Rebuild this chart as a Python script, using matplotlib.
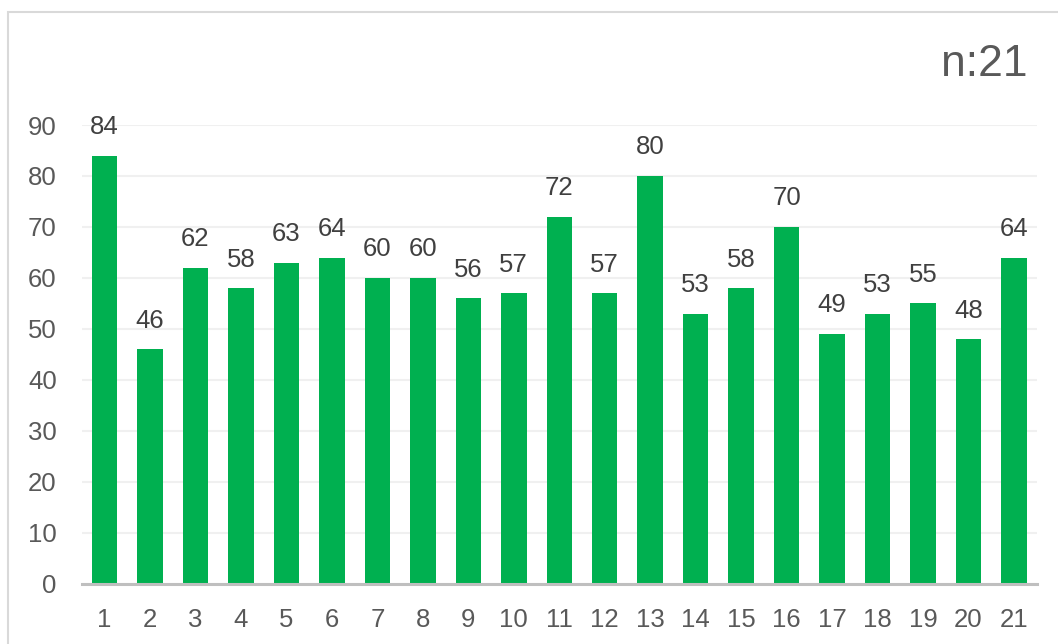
import matplotlib.pyplot as plt
from matplotlib.patches import Rectangle
import numpy as np

plt.rcParams['font.family'] = ['Liberation Sans', 'DejaVu Sans']

# data
labels = [str(i) for i in range(1, 22)]
values = [84, 46, 62, 58, 63, 64, 60, 60, 56, 57, 72, 57, 80, 53, 58, 70, 49, 53, 55, 48, 64]
yticks = [0, 10, 20, 30, 40, 50, 60, 70, 80, 90]

fig = plt.figure(figsize=(10.58, 6.44), dpi=100)
ax = fig.add_axes([0.0773, 0.0932, 0.9026, 0.7127])

x = np.arange(len(values))
ax.bar(x, values, width=0.56, color='#00B050', zorder=3)

for xi, v in zip(x, values):
    ax.annotate(str(v), (xi, v), xytext=(0, 12), textcoords='offset points',
                ha='center', va='bottom', fontsize=18.5, color='#404040')

ax.set_xlim(-0.5, len(values) - 0.5)
ax.set_ylim(0, 90)
ax.set_yticks(yticks)
ax.set_xticks(x)
ax.set_xticklabels(labels)
ax.tick_params(axis='both', length=0, labelsize=18.5, labelcolor='#595959')
ax.tick_params(axis='y', pad=18)
ax.tick_params(axis='x', pad=17)
ax.grid(axis='y', color='#f0f0f0', linewidth=1.5, zorder=0)
for s in ['top', 'right', 'left']:
    ax.spines[s].set_visible(False)
ax.spines['bottom'].set_color('#bfbfbf')
ax.spines['bottom'].set_linewidth(2.2)
ax.spines['bottom'].set_zorder(4)

fig.text(1028 / 1058, 1 - 64 / 644, 'n:21', ha='right', va='center',
         fontsize=32, color='#595959')

# outer frame
fig.patches.append(Rectangle((8 / 1058, -0.1), 1.2, 1.1 - 12 / 644,
                             transform=fig.transFigure, fill=False,
                             edgecolor='#d9d9d9', linewidth=1.5))

fig.savefig('out.png', dpi=100)
